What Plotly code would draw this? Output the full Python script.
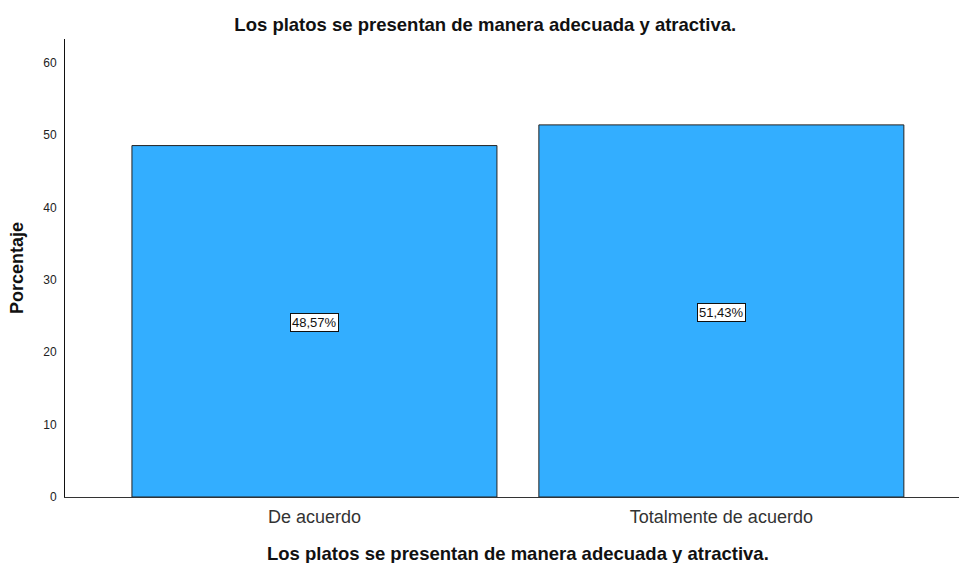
import plotly.graph_objects as go

categories = ["De acuerdo", "Totalmente de acuerdo"]
values = [48.57, 51.43]
labels = ["48,57%", "51,43%"]
y_ticks = [0, 10, 20, 30, 40, 50, 60]
title_text = "Los platos se presentan de manera adecuada y atractiva."

fig = go.Figure()
fig.add_trace(go.Bar(
    x=categories, y=values, width=0.897,
    marker=dict(color="#33AEFF", line=dict(color="#222222", width=1)),
    hoverinfo="skip",
))
for c, v, t in zip(categories, values, labels):
    fig.add_annotation(
        x=c, y=v / 2, yshift=-1.5, text=t, showarrow=False,
        font=dict(family="Liberation Sans, Arial", size=13, color="#111111"),
        bgcolor="white", bordercolor="#111111", borderwidth=1, borderpad=1,
    )

# x-axis title as annotation (slightly right of plot centre, as in reference)
fig.add_annotation(
    xref="paper", yref="paper", x=0.5067, y=-(553 - 497) / 458.0,
    xanchor="center", yanchor="middle", showarrow=False,
    text="<b>" + title_text + "</b>",
    font=dict(family="Liberation Sans, Arial", size=18.5, color="#111111"),
)

fig.update_layout(
    width=959, height=563,
    margin=dict(l=65, r=0, t=39, b=66),
    paper_bgcolor="white", plot_bgcolor="white",
    showlegend=False,
    title=dict(text="<b>" + title_text + "</b>", x=0.506, xanchor="center",
               y=1 - 25 / 563, yanchor="middle",
               font=dict(family="Liberation Sans, Arial", size=18.5, color="#111111")),
    xaxis=dict(
        range=[-0.613, 1.584], showline=True, linecolor="#333333", linewidth=1,
        ticks="", showgrid=False, zeroline=False,
        tickfont=dict(family="Liberation Sans, Arial", size=18, color="#333333"),
        ticklabelstandoff=3,
    ),
    yaxis=dict(
        range=[0, 63.3], tickvals=y_ticks, showline=True, linecolor="#111111", linewidth=1,
        ticks="", showgrid=False, zeroline=False,
        tickfont=dict(family="Liberation Sans, Arial", size=12, color="#222222"),
        ticklabelstandoff=5,
        title=dict(text="<b>Porcentaje</b>", standoff=14,
                   font=dict(family="Liberation Sans, Arial", size=18, color="#111111")),
    ),
)
fig.write_html("out.html")
